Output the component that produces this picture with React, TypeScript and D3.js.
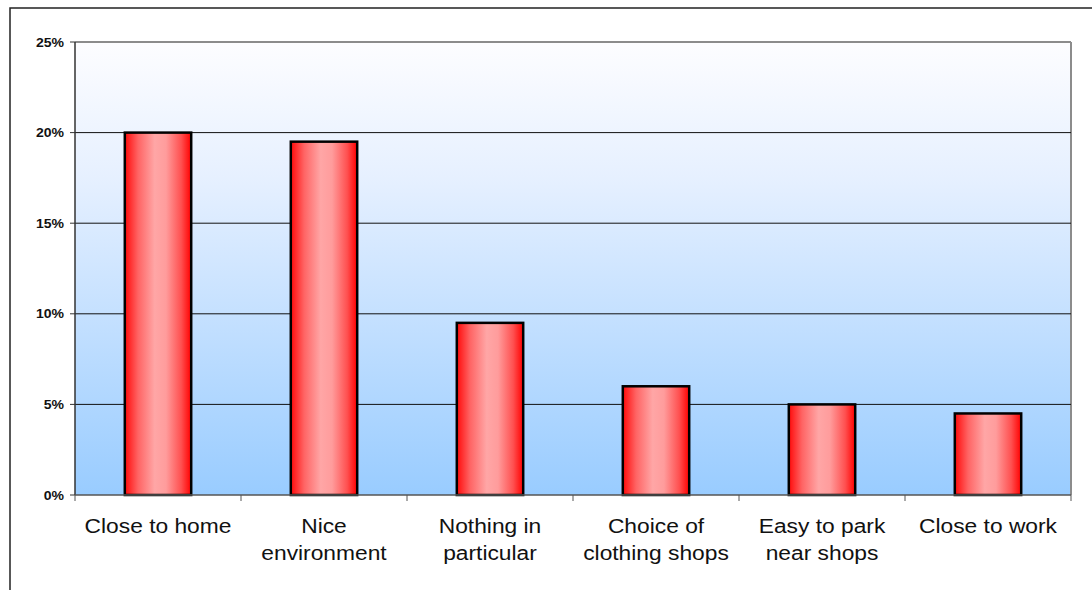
import React from "react";
import * as d3 from "d3";

const categories: string[][] = [
  ["Close to home"],
  ["Nice", "environment"],
  ["Nothing in", "particular"],
  ["Choice of", "clothing shops"],
  ["Easy to park", "near shops"],
  ["Close to work"],
];
const values: number[] = [0.2, 0.195, 0.095, 0.06, 0.05, 0.045];
const yTicks: number[] = [0, 0.05, 0.1, 0.15, 0.2, 0.25];

const W = 1092;
const H = 590;
const plot = { left: 75, right: 1071, top: 42, bottom: 495 };

export default function App() {
  const x = d3
    .scaleBand<number>()
    .domain(d3.range(values.length))
    .range([plot.left, plot.right])
    .paddingInner(0.6)
    .paddingOuter(0.3);
  const xCat = d3
    .scaleBand<number>()
    .domain(d3.range(values.length))
    .range([plot.left, plot.right]);
  const y = d3.scaleLinear().domain([0, 0.25]).range([plot.bottom, plot.top]);
  const fmt = d3.format(".0%");

  return (
    <svg
      width={W}
      height={H}
      style={{ position: "absolute", left: 0, top: 0, background: "#fff" }}
      fontFamily="Arial, 'Liberation Sans', sans-serif"
    >
      <defs>
        <linearGradient id="plotBg" x1="0" y1="0" x2="0" y2="1">
          <stop offset="0" stopColor="#fdfdff" />
          <stop offset="0.3" stopColor="#e6f0ff" />
          <stop offset="1" stopColor="#99ccff" />
        </linearGradient>
        <linearGradient id="barFill" x1="0" y1="0" x2="1" y2="0">
          <stop offset="0" stopColor="#ff0a0a" />
          <stop offset="0.2" stopColor="#ff6464" />
          <stop offset="0.45" stopColor="#ffa6a6" />
          <stop offset="0.62" stopColor="#ff9c9c" />
          <stop offset="0.85" stopColor="#ff5050" />
          <stop offset="1" stopColor="#ff0000" />
        </linearGradient>
      </defs>

      {/* outer frame */}
      <rect x={10} y={8} width={1120} height={620} fill="none" stroke="#222" strokeWidth={1.5} />

      {/* plot area */}
      <rect
        x={plot.left}
        y={plot.top}
        width={plot.right - plot.left}
        height={plot.bottom - plot.top}
        fill="url(#plotBg)"
      />
      <line x1={plot.left} x2={plot.right} y1={plot.top} y2={plot.top} stroke="#8c8c8c" strokeWidth={2} />
      <line x1={plot.right} x2={plot.right} y1={plot.top} y2={plot.bottom} stroke="#8c8c8c" strokeWidth={2} />

      {/* gridlines */}
      {yTicks
        .filter((t) => t > 0 && t < 0.25)
        .map((t) => (
          <line key={t} x1={plot.left} x2={plot.right} y1={y(t)} y2={y(t)} stroke="#111" strokeWidth={1} />
        ))}

      {/* bars */}
      {values.map((v, i) => (
        <rect
          key={i}
          x={x(i)}
          y={y(v)}
          width={x.bandwidth()}
          height={plot.bottom - y(v)}
          fill="url(#barFill)"
          stroke="#000"
          strokeWidth={2.5}
        />
      ))}

      {/* axes */}
      <line x1={plot.left} x2={plot.left} y1={plot.top} y2={plot.bottom} stroke="#333" strokeWidth={1.5} />
      <line x1={plot.left} x2={plot.right} y1={plot.bottom} y2={plot.bottom} stroke="#555" strokeWidth={1.5} />

      {yTicks.map((t) => (
        <g key={t}>
          <line x1={plot.left - 5} x2={plot.left} y1={y(t)} y2={y(t)} stroke="#333" strokeWidth={1} />
          <text
            x={64}
            y={y(t)}
            dy="0.35em"
            textAnchor="end"
            fontSize={13}
            fontWeight="bold"
            fill="#111"
            transform={`translate(64,0) scale(1.08,1) translate(-64,0)`}
          >
            {fmt(t)}
          </text>
        </g>
      ))}

      {d3.range(values.length + 1).map((i) => {
        const xx = i < values.length ? (xCat(i) as number) : plot.right;
        return <line key={i} x1={xx} x2={xx} y1={plot.bottom} y2={plot.bottom + 6} stroke="#555" strokeWidth={1} />;
      })}

      {categories.map((lines, i) => {
        const cx = (xCat(i) as number) + xCat.bandwidth() / 2;
        return (
          <text
            key={i}
            textAnchor="middle"
            fontSize={21}
            fill="#111"
            transform={`translate(${cx},0) scale(1.085,1)`}
          >
            {lines.map((l, j) => (
              <tspan key={j} x={0} y={533 + j * 27}>
                {l}
              </tspan>
            ))}
          </text>
        );
      })}
    </svg>
  );
}
